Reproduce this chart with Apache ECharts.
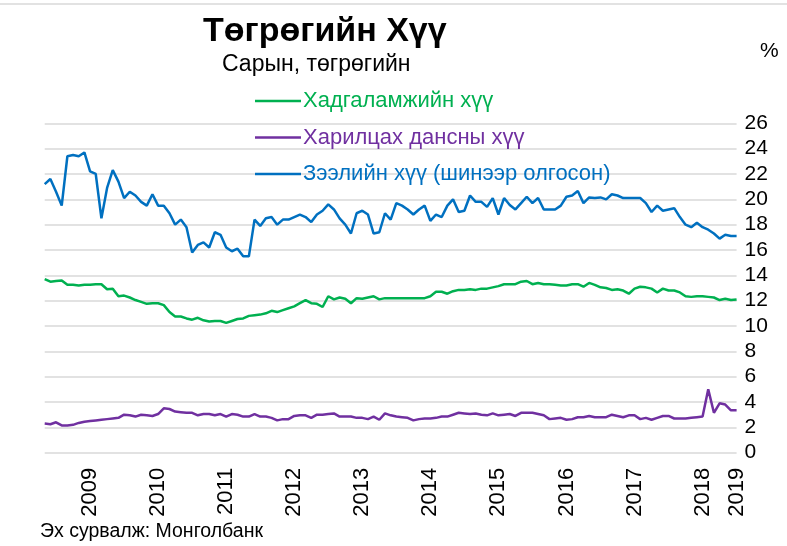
<!DOCTYPE html>
<html>
<head>
<meta charset="utf-8">
<script src="https://cdn.jsdelivr.net/npm/echarts@6/dist/echarts.min.js"></script>
<style>
  html, body { margin: 0; padding: 0; background: #fff; }
  #chart { width: 787px; height: 546px; }
</style>
</head>
<body>
<div id="chart"></div>
<script>
// Monthly tögrög interest rates, Nov 2008 – Jan 2019 (%)
const startYear = 2008;
const startMonth = 11;
const monthCount = 123;

const seriesNames = ['Хадгаламжийн хүү', 'Харилцах дансны хүү', 'Зээлийн хүү (шинээр олгосон)'];
const seriesColors = ['#00b050', '#7030a0', '#0070c0'];

// Savings deposit rate
const savingsRate = [
  13.7, 13.5, 13.55, 13.6, 13.25, 13.25, 13.2, 13.25, 13.25, 13.3, 13.3, 12.9, 12.95, 12.35, 12.4, 12.25,
  12.05, 11.9, 11.75, 11.8, 11.8, 11.65, 11.1, 10.75, 10.75, 10.6, 10.5, 10.65, 10.45, 10.35, 10.4, 10.4,
  10.25, 10.4, 10.55, 10.6, 10.8, 10.85, 10.9, 11.0, 11.2, 11.1,
  11.25, 11.4, 11.55, 11.8, 12.05, 11.8, 11.75, 11.5, 12.35, 12.1, 12.25, 12.15, 11.8, 12.2, 12.15, 12.25,
  12.35, 12.1, 12.2, 12.2, 12.2, 12.2, 12.2, 12.2, 12.2, 12.2, 12.35, 12.7, 12.7, 12.55, 12.75, 12.85,
  12.85, 12.9, 12.85, 12.95, 12.95, 13.05, 13.15, 13.3, 13.3,
  13.3, 13.5, 13.55, 13.3, 13.4, 13.3, 13.3, 13.25, 13.2, 13.2, 13.3, 13.3, 13.1, 13.4, 13.25, 13.05,
  13.0, 12.85, 12.9, 12.8, 12.55, 12.95, 13.1, 13.05, 12.95, 12.65, 12.95, 12.8, 12.8, 12.65, 12.35, 12.3,
  12.35, 12.35, 12.3, 12.25, 12.05, 12.15, 12.05, 12.1
];

// Current account rate
const currentAccountRate = [
  2.3, 2.25, 2.4, 2.15, 2.15, 2.2, 2.35, 2.45, 2.5, 2.55, 2.6, 2.65, 2.7, 2.75, 3.0, 2.95,
  2.85, 3.0, 2.95, 2.9, 3.05, 3.5, 3.45, 3.25, 3.2, 3.15, 3.15, 2.95, 3.05, 3.05, 2.95, 3.05,
  2.85, 3.05, 3.0, 2.85, 2.85, 3.05, 2.85, 2.85, 2.75, 2.55,
  2.65, 2.65, 2.9, 2.95, 2.95, 2.75, 3.0, 3.0, 3.05, 3.1, 2.85, 2.85, 2.85, 2.75, 2.75, 2.65,
  2.85, 2.6, 3.1, 2.95, 2.85, 2.8, 2.75, 2.55, 2.65, 2.7, 2.7, 2.75, 2.85, 2.85, 3.0, 3.15,
  3.1, 3.05, 3.1, 3.0, 2.95, 3.1, 2.95, 3.0, 3.05,
  2.9, 3.15, 3.15, 3.15, 3.05, 2.95, 2.65, 2.7, 2.75, 2.6, 2.65, 2.8, 2.8, 2.9, 2.8, 2.8,
  2.8, 3.0, 2.9, 2.8, 2.95, 2.95, 2.65, 2.75, 2.6, 2.75, 2.9, 2.9, 2.7, 2.7, 2.7, 2.75,
  2.8, 2.85, 5.0, 3.15, 3.9, 3.8, 3.35, 3.35
];

// Newly issued loan rate
const loanRate = [
  21.2, 21.6, 20.6, 19.5, 23.4, 23.5, 23.4, 23.7, 22.2, 22.0, 18.5, 20.9, 22.3, 21.4, 20.1, 20.6,
  20.3, 19.8, 19.5, 20.4, 19.5, 19.5, 18.9, 18.0, 18.4, 17.8, 15.8, 16.4, 16.6, 16.2, 17.4, 17.2,
  16.2, 15.9, 16.1, 15.5, 15.5, 18.4, 17.9, 18.5, 18.6, 18.0,
  18.4, 18.4, 18.6, 18.8, 18.6, 18.2, 18.8, 19.1, 19.6, 19.2, 18.5, 18.0, 17.3, 18.9, 19.1, 18.8,
  17.3, 17.4, 18.9, 18.4, 19.7, 19.5, 19.2, 18.8, 19.2, 19.5, 18.3, 18.8, 18.6, 19.5, 20.0, 19.0,
  19.1, 20.3, 19.8, 19.8, 19.4, 20.1, 18.8, 20.1, 19.55,
  19.2, 19.7, 20.2, 19.7, 20.1, 19.2, 19.2, 19.2, 19.5, 20.2, 20.3, 20.65, 19.7, 20.15, 20.1, 20.15,
  20.0, 20.4, 20.3, 20.1, 20.1, 20.1, 20.1, 19.7, 19.0, 19.5, 19.1, 19.2, 19.3, 18.6, 18.0, 17.8,
  18.15, 17.8, 17.6, 17.3, 16.9, 17.2, 17.1, 17.1
];

// Month categories as 'YYYY-MM'
const months = [];
for (let i = 0; i < monthCount; i++) {
  const m0 = startMonth - 1 + i;
  const y = startYear + Math.floor(m0 / 12);
  const m = (m0 % 12) + 1;
  months.push(y + '-' + String(m).padStart(2, '0'));
}

// Year labels sit on July of each year, plus the final month
function showYearLabel(index) {
  const month = months[index].slice(5);
  return month === '07' || index === months.length - 1;
}

const FONT = '"Liberation Sans", Arial, sans-serif';

const chart = echarts.init(document.getElementById('chart'), null, { renderer: 'canvas' });

chart.setOption({
  animation: false,
  backgroundColor: '#ffffff',
  textStyle: { fontFamily: FONT },
  graphic: [
    {
      // thin frame rule along the top edge
      type: 'line',
      shape: { x1: 0, y1: 4, x2: 787, y2: 4 },
      style: { stroke: '#d9d9d9', lineWidth: 1.5 },
      silent: true
    }
  ],
  title: [
    {
      text: 'Төгрөгийн Хүү',
      left: 203, top: 15, padding: 0,
      textStyle: { fontFamily: FONT, fontSize: 34, fontWeight: 'bold', color: '#000' }
    },
    {
      text: 'Сарын, төгрөгийн',
      left: 222, top: 53, padding: 0,
      textStyle: { fontFamily: FONT, fontSize: 23, fontWeight: 'normal', color: '#000' }
    },
    {
      text: '%',
      left: 760, top: 41, padding: 0,
      textStyle: { fontFamily: FONT, fontSize: 21, fontWeight: 'normal', color: '#000' }
    },
    {
      text: 'Эх сурвалж: Монголбанк',
      left: 40, top: 522, padding: 0,
      textStyle: { fontFamily: FONT, fontSize: 19.5, fontWeight: 'normal', color: '#000' }
    }
  ],
  legend: {
    orient: 'vertical',
    left: 255, top: 90, padding: 0,
    itemGap: 14.5,
    itemWidth: 46, itemHeight: 2.5,
    icon: 'rect',
    textStyle: { fontFamily: FONT, fontSize: 22, padding: [0, 0, 0, -3] },
    data: seriesNames.map((n, k) => ({ name: n, textStyle: { color: seriesColors[k] } }))
  },
  grid: { left: 44.7, right: 50.4, top: 123.3, bottom: 93.3, containLabel: false },
  xAxis: {
    type: 'category',
    data: months,
    boundaryGap: false,
    axisLine: { show: false },
    axisTick: { show: false },
    splitLine: { show: false },
    axisLabel: {
      interval: (index) => showYearLabel(index),
      formatter: (value) => value.slice(0, 4),
      rotate: 90,
      margin: 15,
      fontFamily: FONT,
      fontSize: 22,
      color: '#000'
    }
  },
  yAxis: {
    type: 'value',
    position: 'right',
    min: 0, max: 26, interval: 2,
    axisLine: { show: false },
    axisTick: { show: false },
    splitLine: { show: true, lineStyle: { color: '#d9d9d9', width: 1.5 } },
    axisLabel: {
      margin: 8,
      align: 'left',
      fontFamily: FONT,
      fontSize: 21,
      color: '#000'
    }
  },
  series: [
    { name: seriesNames[0], type: 'line', data: savingsRate, showSymbol: false, color: seriesColors[0], lineStyle: { width: 2.5 } },
    { name: seriesNames[1], type: 'line', data: currentAccountRate, showSymbol: false, color: seriesColors[1], lineStyle: { width: 2.5 } },
    { name: seriesNames[2], type: 'line', data: loanRate, showSymbol: false, color: seriesColors[2], lineStyle: { width: 2.5 } }
  ]
});
</script>
</body>
</html>
